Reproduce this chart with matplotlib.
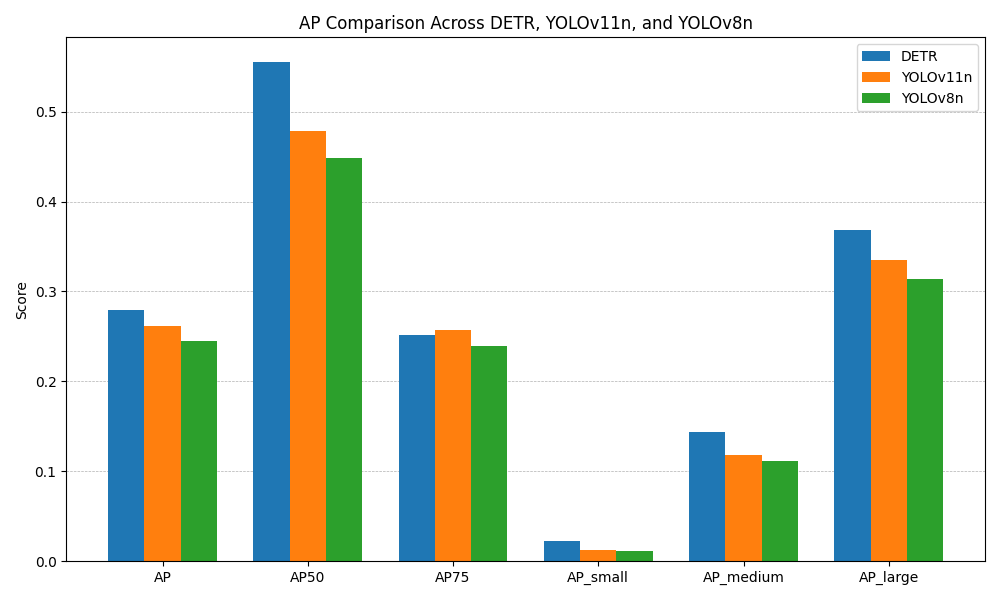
import numpy as np
import matplotlib
matplotlib.use('Agg')
import matplotlib.pyplot as plt

metrics = ['AP', 'AP50', 'AP75', 'AP_small', 'AP_medium', 'AP_large']
detr = [0.279, 0.555, 0.252, 0.022, 0.144, 0.368]
yolov11n = [0.262, 0.478, 0.257, 0.012, 0.118, 0.335]
yolov8n = [0.245, 0.449, 0.239, 0.011, 0.111, 0.314]

x = np.arange(len(metrics))
w = 0.25
fig, ax = plt.subplots(figsize=(10, 6), dpi=100)
ax.bar(x - w, detr, w, label='DETR')
ax.bar(x, yolov11n, w, label='YOLOv11n')
ax.bar(x + w, yolov8n, w, label='YOLOv8n')
ax.set_xticks(x)
ax.set_xticklabels(metrics)
ax.set_ylabel('Score')
ax.set_title('AP Comparison Across DETR, YOLOv11n, and YOLOv8n')
ax.legend()
ax.grid(axis='y', linestyle='--', linewidth=0.5)
ax.set_axisbelow(True)
plt.tight_layout()
plt.savefig('out.png')
